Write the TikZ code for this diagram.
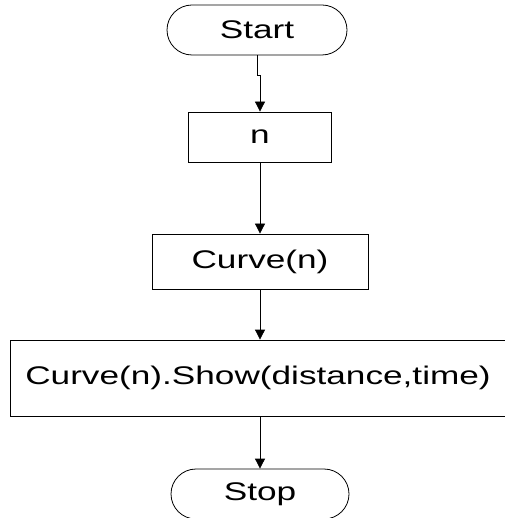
\documentclass[tikz,border=0pt]{standalone}
\usepackage{fontspec}
\newfontfamily\flowfont[FakeStretch=1.38]{Liberation Sans}
\usetikzlibrary{shapes.misc,arrows.meta}
\tikzset{
  every node/.style={font=\flowfont\fontsize{25.5}{30}\selectfont, inner sep=0pt},
  term/.style={draw, rounded rectangle, line width=0.8pt, minimum height=50pt},
  procbox/.style={draw, rectangle, line width=0.8pt},
  arr/.style={draw, line width=0.8pt, -{Triangle[length=10pt,width=10pt]}}
}
\begin{document}
\begin{tikzpicture}[x=1pt,y=-1pt]
  \useasboundingbox (0,0) rectangle (504,518);
  % terminals and process boxes
  \node[term, minimum width=180pt] (start) at (257,30) {Start};
  \node[procbox, minimum width=143pt, minimum height=50pt] (n) at (260,137) {n};
  \node[procbox, minimum width=216pt, minimum height=55pt] (curve) at (260,261.5) {Curve(n)};
  \node[procbox, minimum width=496pt, minimum height=76pt] (show) at (258,378) {Curve(n).Show(distance,time)};
  \node[term, minimum width=178pt] (stop) at (260,494) {Stop};
  % flow
  \draw[arr] (start.south) -- ++(0,20) -| (n.north);
  \draw[arr] (n.south) -- (curve.north);
  \draw[arr] (curve.south) -- (curve.south |- show.north);
  \draw[arr] (stop.north |- show.south) -- (stop.north);
\end{tikzpicture}
\end{document}
